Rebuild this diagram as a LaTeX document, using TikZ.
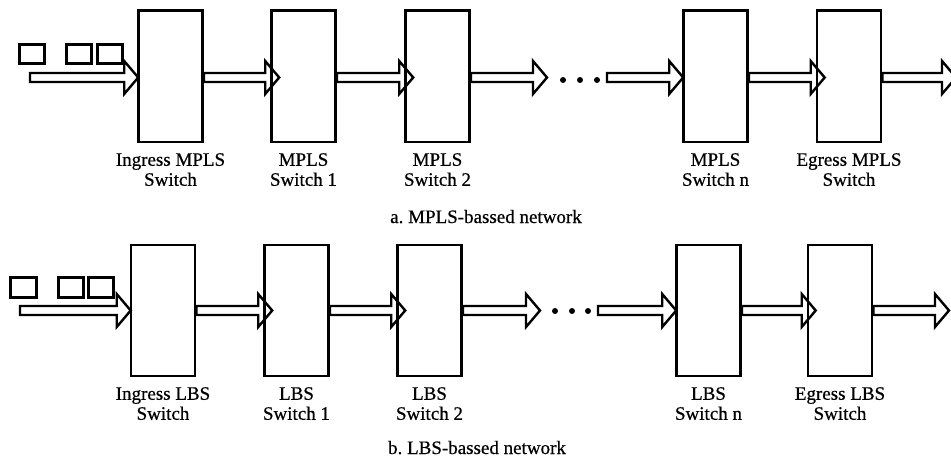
\documentclass[tikz,border=0pt]{standalone}
\usepackage{fontspec}
\setmainfont{Liberation Serif}[FakeBold=0.6]
\newfontfamily\labelfont{Liberation Serif}[FakeBold=0.6]
\usetikzlibrary{calc}
\frenchspacing

\tikzset{
  switchbox/.style={draw, line width=2.6pt, minimum width=64pt, minimum height=131pt, inner sep=0pt},
  packet/.style={draw, line width=2.6pt, minimum width=25.5pt, minimum height=19.5pt, inner sep=0pt},
  blockarrow/.style={draw, line width=2.4pt, line join=miter},
  swlabel/.style={anchor=north, align=center, inner sep=0pt, font=\labelfont\fontsize{19}{20}\selectfont},
  caption/.style={anchor=base, inner sep=0pt, font=\labelfont\fontsize{19}{20}\selectfont},
  dot/.style={circle, fill, inner sep=0pt, minimum size=6pt}
}

% hollow block arrow from point #1 to its tip at point #2 (row height taken from #1)
\newcommand\flow[2]{%
  \draw[blockarrow] let \p1=(#1), \p2=(#2) in
    (\x1,\y1+4.5pt) -- (\x2-14pt,\y1+4.5pt) -- (\x2-14pt,\y1+16.5pt) -- (\x2,\y1)
    -- (\x2-14pt,\y1-16.5pt) -- (\x2-14pt,\y1-4.5pt) -- (\x1,\y1-4.5pt) -- cycle;}

\begin{document}
\begin{tikzpicture}[x=1pt,y=-1pt]
\useasboundingbox (0,0) rectangle (951,460);
\clip (0,0) rectangle (951,460);

% ---------------- a. MPLS-based network ----------------
\coordinate (arow) at (0,77.5);
\coordinate (a-in) at (30,77.5);
\coordinate (a-gap) at (547,77.5);
\coordinate (a-resume) at (607,77.5);
\coordinate (a-out) at (956,77.5);

\node[switchbox] (a1) at (170.5,76.3) {};
\node[switchbox] (a2) at (303.5,76.3) {};
\node[switchbox] (a3) at (437.5,76.3) {};
\node[switchbox] (an) at (715.5,76.3) {};
\node[switchbox] (ae) at (849,76.3) {};

\node[packet] (ap1) at (32,54) {};
\node[packet] (ap2) at (79,54) {};
\node[packet] (ap3) at (110,54) {};

\flow{a-in}{$(a1.west |- arow)+(1,0)$}
\flow{a1.east |- arow}{$(a2.west |- arow)+(9,0)$}
\flow{a2.east |- arow}{$(a3.west |- arow)+(9,0)$}
\flow{a3.east |- arow}{a-gap}
\flow{a-resume}{$(an.west |- arow)+(1,0)$}
\flow{an.east |- arow}{$(ae.west |- arow)+(9,0)$}
\flow{ae.east |- arow}{a-out}

\node[dot] (ad1) at (563,80) {};
\node[dot] (ad2) at (580,80) {};
\node[dot] (ad3) at (597,80) {};

\node[swlabel] (al1) at (a1.center |- 0,153) {Ingress MPLS\\Switch};
\node[swlabel] (al2) at (a2.center |- 0,153) {MPLS\\Switch 1};
\node[swlabel] (al3) at (a3.center |- 0,153) {MPLS\\Switch 2};
\node[swlabel] (aln) at (an.center |- 0,153) {MPLS\\Switch n};
\node[swlabel] (ale) at (ae.center |- 0,153) {Egress MPLS\\Switch};

\node[caption] (acap) at (486,223) {a. MPLS-bassed network};

% ---------------- b. LBS-based network ----------------
\coordinate (brow) at (0,310.5);
\coordinate (b-in) at (20,310.5);
\coordinate (b-gap) at (540,310.5);
\coordinate (b-resume) at (598,310.5);
\coordinate (b-out) at (949,310.5);

\node[switchbox] (b1) at (163,310.5) {};
\node[switchbox] (b2) at (296.5,310.5) {};
\node[switchbox] (b3) at (429.5,310.5) {};
\node[switchbox] (bn) at (708.5,310.5) {};
\node[switchbox] (be) at (840,310.5) {};

\node[packet] (bp1) at (23.5,287.5) {};
\node[packet] (bp2) at (71,287.5) {};
\node[packet] (bp3) at (101,287.5) {};

\flow{b-in}{$(b1.west |- brow)+(1,0)$}
\flow{b1.east |- brow}{$(b2.west |- brow)+(9,0)$}
\flow{b2.east |- brow}{$(b3.west |- brow)+(9,0)$}
\flow{b3.east |- brow}{b-gap}
\flow{b-resume}{$(bn.west |- brow)+(1,0)$}
\flow{bn.east |- brow}{$(be.west |- brow)+(9,0)$}
\flow{be.east |- brow}{b-out}

\node[dot] (bd1) at (555,311) {};
\node[dot] (bd2) at (572,311) {};
\node[dot] (bd3) at (588,311) {};

\node[swlabel] (bl1) at (b1.center |- 0,387) {Ingress LBS\\Switch};
\node[swlabel] (bl2) at (b2.center |- 0,387) {LBS\\Switch 1};
\node[swlabel] (bl3) at (b3.center |- 0,387) {LBS\\Switch 2};
\node[swlabel] (bln) at (bn.center |- 0,387) {LBS\\Switch n};
\node[swlabel] (ble) at (be.center |- 0,387) {Egress LBS\\Switch};

\node[caption] (bcap) at (477,454) {b. LBS-bassed network};
\end{tikzpicture}
\end{document}
